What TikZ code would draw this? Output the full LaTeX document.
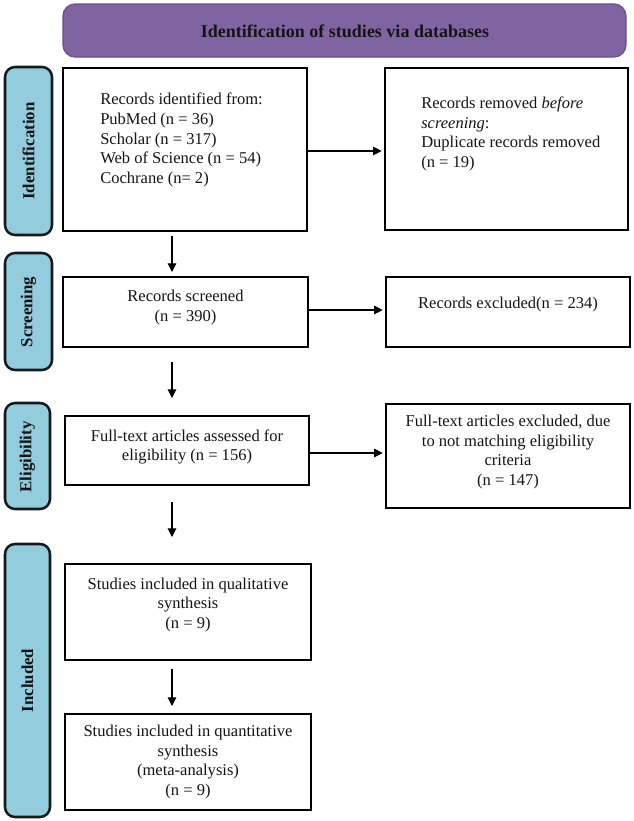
\documentclass[tikz,border=0pt]{standalone}
\usepackage{fontspec}
\setmainfont{Liberation Serif}
\usetikzlibrary{arrows.meta}
\definecolor{bannerfill}{HTML}{8064A2}
\definecolor{bannerline}{HTML}{6A4F8C}
\definecolor{tabfill}{HTML}{93CCDD}
\definecolor{tabline}{HTML}{151A1C}
\definecolor{inktext}{HTML}{141414}
\tikzset{
  pbox/.style 2 args={draw=black, line width=1.7pt, fill=white, rectangle, inner sep=0pt, outer sep=0pt,
     minimum width=#1*0.75pt, minimum height=#2*0.75pt},
  tabbox/.style 2 args={draw=tabline, line width=1.9pt, fill=tabfill, rounded corners=7.5pt, rectangle, inner sep=0pt, outer sep=0pt,
     minimum width=#1*0.75pt, minimum height=#2*0.75pt},
  tablabel/.style={rotate=90, font=\fontsize{12.6}{15}\selectfont\bfseries, text=inktext, inner sep=0pt},
  bodytext/.style={font=\fontsize{12.4}{14.8}\selectfont, text=inktext, inner sep=0pt},
  arr/.style={line width=0.8pt, -{Triangle[length=6.5pt,width=6.5pt]}},
}
\begin{document}
\begin{tikzpicture}[x=0.75pt, y=-0.75pt]
\useasboundingbox (0,0) rectangle (634,821);
\fill[white] (0,0) rectangle (634,821);

% banner
\node[draw=bannerline, line width=0.9pt, fill=bannerfill, rounded corners=9pt, rectangle, inner sep=0pt,
      minimum width=563*0.75pt, minimum height=53*0.75pt] (banner) at (344.5,30.5) {};
\node[font=\fontsize{13.5}{16}\selectfont\bfseries, text=inktext, inner sep=0pt] (title) at (345,31) {Identification of studies via databases};

% side tabs
\node[tabbox={47}{168}] (t1) at (28.5,151) {};
\node[tablabel] (t1l) at (28.5,151) {Identification};
\node[tabbox={47}{117}] (t2) at (28.5,311.5) {};
\node[tablabel] (t2l) at (28.5,312) {Screening};
\node[tabbox={45}{106}] (t3) at (27.5,456) {};
\node[tablabel] (t3l) at (27.5,457) {Eligibility};
\node[tabbox={45}{273}] (t4) at (27.5,680.5) {};
\node[tablabel] (t4l) at (27.5,680.5) {Included};

% boxes
\node[pbox={244}{163}] (b1) at (185,149.5) {};
\node[pbox={243}{162}] (b2) at (506.5,149) {};
\node[pbox={245}{70}] (b3) at (185.5,312) {};
\node[pbox={244}{70}] (b4) at (508,312) {};
\node[pbox={244}{69}] (b5) at (187,450.5) {};
\node[pbox={244}{104}] (b6) at (508,456) {};
\node[pbox={246}{96}] (b7) at (188,612) {};
\node[pbox={246}{96}] (b8) at (188,762) {};

% texts
\node[bodytext, align=left, anchor=west] (b1t) at (100,140) {Records identified from:\\PubMed (n = 36)\\Scholar (n = 317)\\Web of Science (n = 54)\\Cochrane (n= 2)};
\node[bodytext, align=left, anchor=west] (b2t) at (421,134) {Records removed \textit{before}\\\textit{screening}:\\Duplicate records removed\\(n = 19)};
\node[bodytext, align=center] (b3t) at (185.5,307.5) {Records screened\\(n = 390)};
\node[bodytext, align=center] (b4t) at (508,304.5) {Records excluded(n = 234)};
\node[bodytext, align=center] (b5t) at (187,447) {Full-text articles assessed for\\eligibility (n = 156)};
\node[bodytext, align=center] (b6t) at (508,452) {Full-text articles excluded, due\\to not matching eligibility\\criteria\\(n = 147)};
\node[bodytext, align=center] (b7t) at (188,605) {Studies included in qualitative\\synthesis\\(n = 9)};
\node[bodytext, align=center] (b8t) at (188,762) {Studies included in quantitative\\synthesis\\(meta-analysis)\\(n = 9)};

% connectors
\coordinate (ax) at (172,0);
\coordinate (h1) at (0,151);
\coordinate (h2) at (0,310);
\coordinate (h3) at (0,453);
\draw[arr, shorten >=2.5pt] (b1.east |- h1) -- (b2.west |- h1);
\draw[arr, shorten >=2.5pt] (b3.east |- h2) -- (b4.west |- h2);
\draw[arr, shorten >=2.5pt] (b5.east |- h3) -- (b6.west |- h3);
\draw[arr, shorten <=3.75pt, shorten >=3.75pt] (b1.south -| ax) -- (b3.north -| ax);
\draw[arr, shorten <=11.25pt, shorten >=13.5pt] (b3.south -| ax) -- (b5.north -| ax);
\draw[arr, shorten <=12.75pt, shorten >=20.25pt] (b5.south -| ax) -- (b7.north -| ax);
\draw[arr, shorten <=6.75pt, shorten >=6pt] (b7.south -| ax) -- (b8.north -| ax);
\end{tikzpicture}
\end{document}
